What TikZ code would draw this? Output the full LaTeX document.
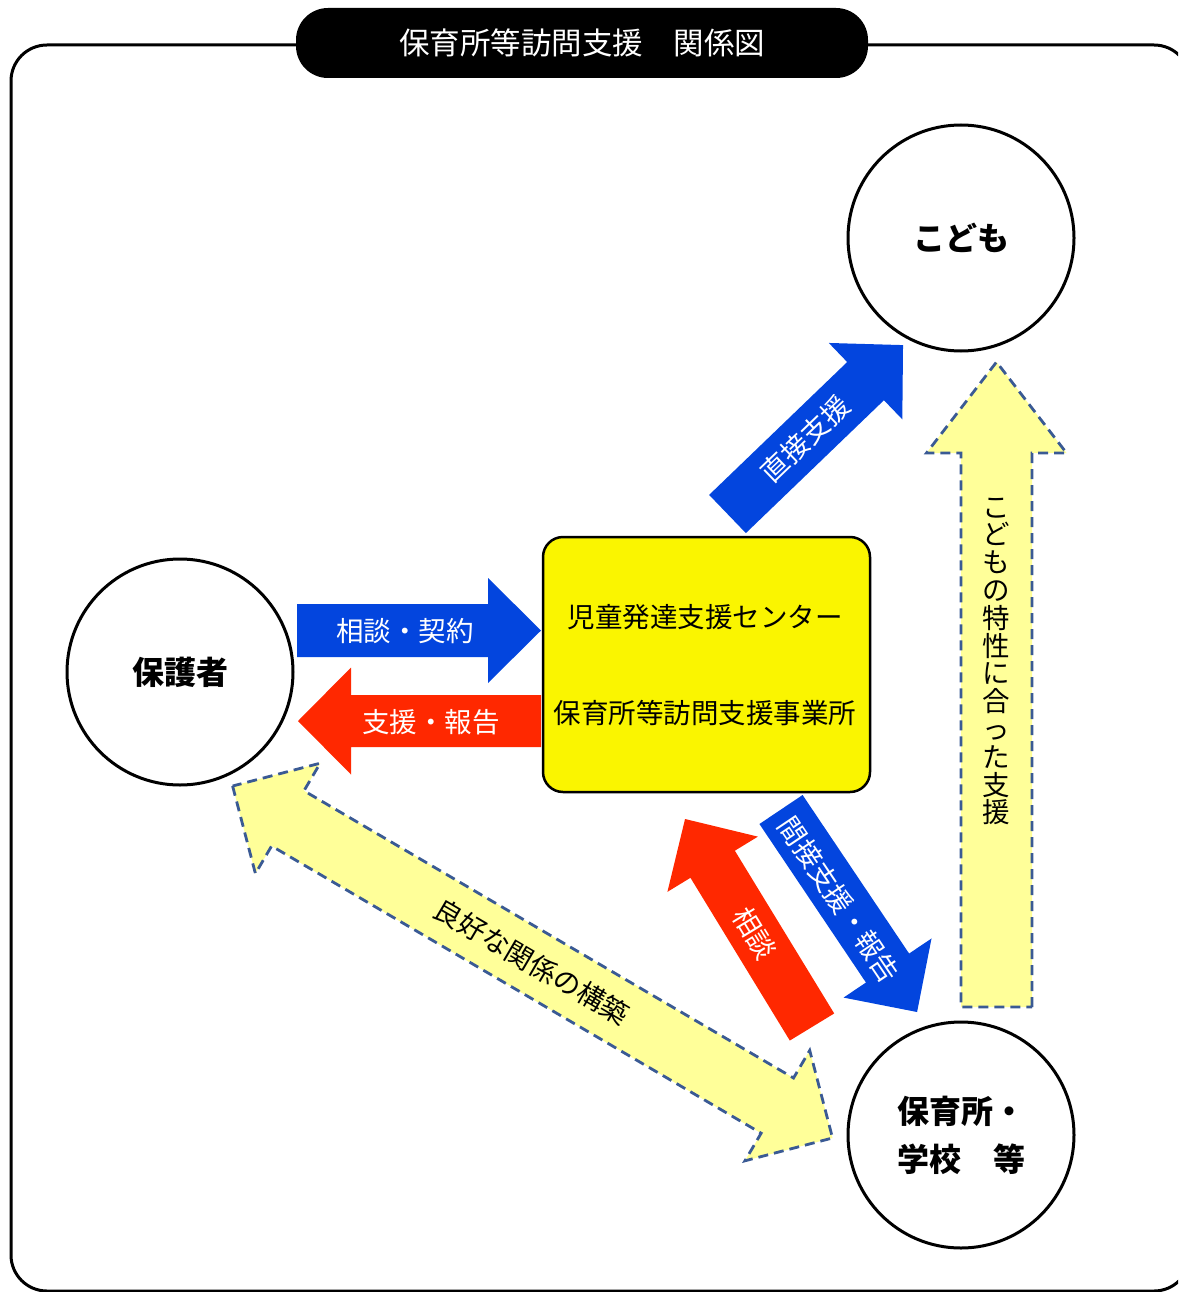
\documentclass[tikz,border=0pt]{standalone}
\usepackage{fontspec}
\setmainfont{Noto Sans CJK JP}
\usetikzlibrary{calc}
\definecolor{arrblue}{RGB}{3,69,222}
\definecolor{arrred}{RGB}{255,40,0}
\definecolor{boxyellow}{RGB}{250,245,0}
\definecolor{lightyellow}{RGB}{255,255,153}
\definecolor{dashblue}{RGB}{58,90,148}
% #1 style, #2 tail coordinate, #3 angle, #4 length, #5 shaft width, #6 head width, #7 head length
\newcommand\blockarrow[7]{%
  \path[#1,shift={(#2)},rotate=#3] (0,{#5/2}) -- ({#4-#7},{#5/2}) -- ({#4-#7},{#6/2}) -- (#4,0)
    -- ({#4-#7},{-#6/2}) -- ({#4-#7},{-#5/2}) -- (0,{-#5/2}) -- cycle;}
% #1 style, #2 first tip, #3 angle, #4 length, #5 shaft width, #6 head width, #7 head length
\newcommand\dblarrow[7]{%
  \path[#1,shift={(#2)},rotate=#3] (0,0) -- (#7,{#6/2}) -- (#7,{#5/2}) -- ({#4-#7},{#5/2}) -- ({#4-#7},{#6/2})
    -- (#4,0) -- ({#4-#7},{-#6/2}) -- ({#4-#7},{-#5/2}) -- (#7,{-#5/2}) -- (#7,{-#6/2}) -- cycle;}
\begin{document}
\begin{tikzpicture}[x=1pt,y=-1pt,
  every node/.style={inner sep=0pt},
  party/.style={circle,draw,line width=3pt,minimum size=226pt,font=\fontsize{32}{48}\selectfont\bfseries},
  lbl/.style={font=\fontsize{27.5}{33}\selectfont},
  wlbl/.style={lbl,text=white},
  bluefill/.style={fill=arrblue},
  redfill/.style={fill=arrred},
  dashfill/.style={fill=lightyellow,draw=dashblue,line width=2.8pt,dash pattern=on 10pt off 6pt,line join=miter},
]
\useasboundingbox (0,0) rectangle (1178,1292);
\clip (0,0) rectangle (1178,1292);
% frame
\draw[line width=3pt,rounded corners=36pt] (11,45) rectangle (1190,1291);
% title
\node[fill=black,rounded corners=32pt,minimum width=572pt,minimum height=70pt,text=white,
      font=\fontsize{30.5}{36}\selectfont] (title) at (582,43) {保育所等訪問支援　関係図};
% parties
\node[party] (kodomo) at (961,238) {こども};
\node[party] (hogosha) at (180,672) {保護者};
\node[party,align=left] (hoikusho) at (961,1135) {保育所・\\学校　等};
% center box
\node[draw,line width=2.5pt,fill=boxyellow,rounded corners=20pt,minimum width=327pt,minimum height=255pt] (center) at (706.5,664.5) {};
\node[lbl] (center1) at (705,617) {児童発達支援センター};
\node[lbl] (center2) at (705,713) {保育所等訪問支援事業所};
% yellow dashed arrows
\coordinate (a6t) at (996.5,1007);
\blockarrow{dashfill}{a6t}{90}{645}{71}{140}{91}
\node[lbl,align=center,font=\fontsize{27.5}{27.8}\selectfont] (l6) at (996.5,661.5)
  {こ\\ど\\も\\の\\特\\性\\に\\合\\っ\\た\\支\\援};
\coordinate (a7t) at (232.6,786);
\dblarrow{dashfill}{a7t}{-30.4}{695.6}{64}{128}{64}
\node[lbl,rotate=-30.4] (l7) at (532,962) {良好な関係の構築};
% arrows parent <-> center
\coordinate (a1t) at (297,630.5);
\blockarrow{bluefill}{a1t}{0}{244}{53}{105}{53}
\node[wlbl] (l1) at (405,631) {相談・契約};
\coordinate (a2t) at (541,721);
\blockarrow{redfill}{a2t}{180}{243}{52}{107}{53}
\node[wlbl] (l2) at (431,722) {支援・報告};
% center -> child
\coordinate (a3t) at (727.5,514);
\blockarrow{bluefill}{a3t}{43.9}{243.6}{53}{106}{52}
\node[wlbl,rotate=43.9] (l3) at (805,439) {直接支援};
% school <-> center
\coordinate (a4t) at (812,1027);
\blockarrow{redfill}{a4t}{121.4}{243.7}{52}{106}{53}
\node[wlbl,rotate=-58.6] (l4) at (754.5,933.5) {相談};
\coordinate (a5t) at (781,809.5);
\blockarrow{bluefill}{a5t}{-56.1}{244}{52}{106}{53}
\node[wlbl,rotate=-56.1] (l5) at (839,899.5) {間接支援・報告};
\end{tikzpicture}
\end{document}
